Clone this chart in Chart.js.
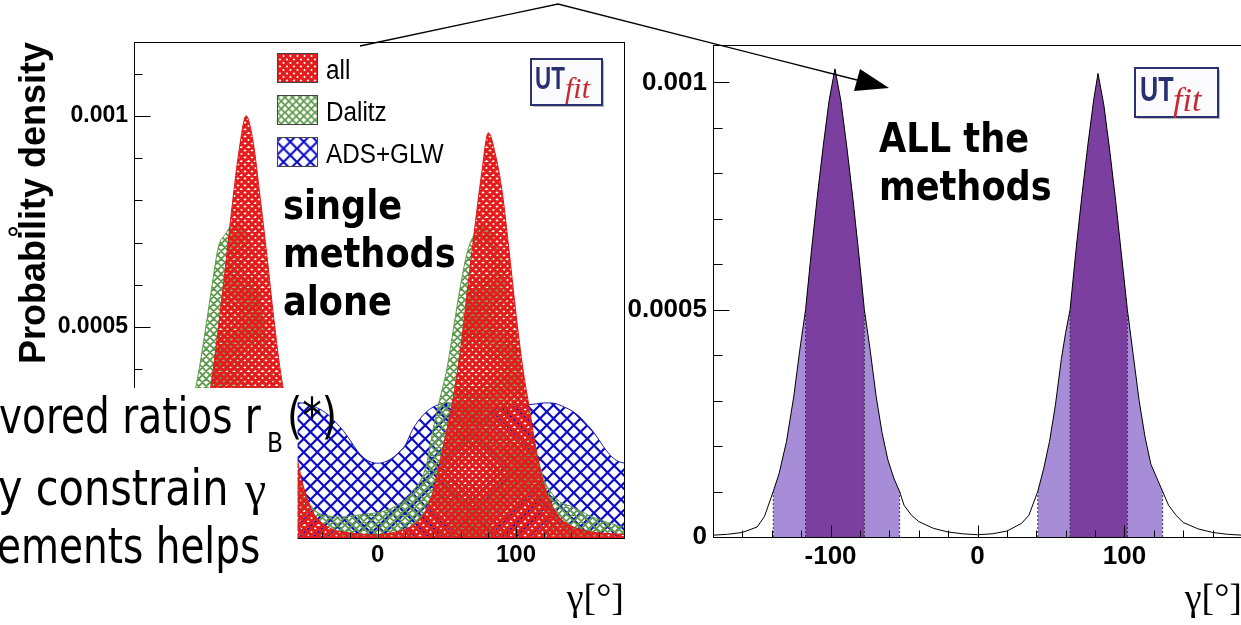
<!DOCTYPE html>
<html>
<head>
<meta charset="utf-8">
<script src="https://cdn.jsdelivr.net/npm/chart.js@4.4.1/dist/chart.umd.min.js"></script>
<style>
  html, body { margin: 0; padding: 0; background: #fff; overflow: hidden; }
  #page { position: relative; width: 1241px; height: 625px; overflow: hidden; background: #fff; }
  #left { position: absolute; left: 0; top: 0; }
  #right { position: absolute; left: 625px; top: 0; }
  #overlay { position: absolute; left: 0; top: 0; pointer-events: none; }
</style>
</head>
<body>
<div id="page">
  <canvas id="left" width="625" height="625"></canvas>
  <canvas id="right" width="620" height="625"></canvas>
  <svg id="overlay" width="1241" height="625" xmlns="http://www.w3.org/2000/svg">
    <defs id="defs"></defs>
    <!-- slide text box lying over the left plot -->
    <rect x="0" y="388" width="297.5" height="237" fill="#fff"/>
    <g font-family="DejaVu Sans" fill="#000">
      <text transform="translate(-1,433) scale(0.78,1)" font-size="50">vored ratios r</text>
      <text transform="translate(267,452) scale(0.9,1)" font-size="26">B</text>
      <text transform="translate(287,433) scale(0.78,1)" font-size="50">(*)</text>
      <text transform="translate(-2,505) scale(0.83,1)" font-size="50">y constrain</text>
      <text x="245" y="505" font-family="Liberation Serif" font-size="48">γ</text>
      <text transform="translate(-3,563) scale(0.78,1)" font-size="50">ements helps</text>
      <text x="13" y="249" font-size="30" text-anchor="middle">°</text>
    </g>
    <g font-family="DejaVu Sans" font-weight="bold" font-size="40" fill="#000">
      <text transform="translate(283,219) scale(0.88,1)">single</text>
      <text transform="translate(283,267) scale(0.88,1)">methods</text>
      <text transform="translate(283,315) scale(0.88,1)">alone</text>
      <text transform="translate(879,152) scale(0.88,1)">ALL the</text>
      <text transform="translate(879,200) scale(0.88,1)">methods</text>
    </g>
    <g id="legend"></g>
    <!-- UTfit logos -->
    <g>
      <rect x="533" y="61" width="71" height="46" fill="#bbb"/>
      <rect x="531" y="59" width="71" height="46" fill="#fbfbfd" stroke="#2a3170" stroke-width="2"/>
      <text transform="translate(535,89) scale(0.7,1)" font-family="Liberation Sans" font-weight="bold" font-size="32" fill="#2a2f72">UT</text>
      <text x="565" y="98" font-family="Liberation Serif" font-style="italic" font-size="30" fill="#c62a2f">fit</text>
      <rect x="1137" y="70" width="83" height="49" fill="#bbb"/>
      <rect x="1135" y="68" width="83" height="49" fill="#fbfbfd" stroke="#2a3170" stroke-width="2"/>
      <text transform="translate(1140,101) scale(0.7,1)" font-family="Liberation Sans" font-weight="bold" font-size="36" fill="#2a2f72">UT</text>
      <text x="1173" y="111" font-family="Liberation Serif" font-style="italic" font-size="34" fill="#c62a2f">fit</text>
    </g>
    <!-- arrow from left plot to right plot -->
    <polyline points="360,46 558,4 857,80" fill="none" stroke="#000" stroke-width="1.3"/>
    <polygon points="889,88 854,91 860,69" fill="#000"/>
  </svg>
</div>
<script>
// gamma grid of the left plot (degrees)
const leftX = [
  -180, -175, -170, -165, -160, -155, -150, -145,
  -140, -135, -130, -125, -120, -115, -110, -105,
  -100, -95, -90, -85, -80, -75, -70, -65,
  -60, -55, -50, -45, -40, -35, -30, -25,
  -20, -15, -10, -5, 0, 5, 10, 15,
  20, 25, 30, 35, 40, 45, 50, 55,
  60, 65, 70, 75, 80, 85, 90, 95,
  100, 105, 110, 115, 120, 125, 130, 135,
  140, 145, 150, 155, 160, 165, 170, 175,
  180
];
const allY = [
  0.000008, 0.000009, 0.000011, 0.000013, 0.000017, 0.000023, 0.000032, 0.000049,
  0.000076, 0.00013, 0.0002, 0.00028, 0.00037, 0.0005, 0.00064, 0.00079,
  0.00092, 0.001, 0.00094, 0.00081, 0.00067, 0.00052, 0.00039, 0.0003,
  0.00022, 0.00014, 0.000085, 0.000052, 0.000035, 0.000024, 0.000017, 0.000014,
  0.000012, 0.00001, 0.000009, 0.000008, 0.000008, 0.00001, 0.000012, 0.000016,
  0.00002, 0.000029, 0.000043, 0.000066, 0.00011, 0.00018, 0.000256, 0.00034,
  0.00045, 0.00059, 0.00073, 0.00086, 0.00096, 0.00091, 0.00082, 0.00068,
  0.00053, 0.0004, 0.0003, 0.0002, 0.00013, 0.000085, 0.000055, 0.000038,
  0.000028, 0.000022, 0.000017, 0.000014, 0.000012, 0.000011, 0.00001, 0.000009,
  0.000008
];
const dalitzY = [
  0.000035, 0.00004, 0.000048, 0.000058, 0.00007, 0.00009, 0.000125, 0.00018,
  0.00024, 0.0003, 0.00038, 0.00048, 0.00059, 0.00069, 0.00072, 0.00074,
  0.00074, 0.00072, 0.00067, 0.00057, 0.00046, 0.00037, 0.0003, 0.00022,
  0.00016, 0.00012, 0.000085, 0.000065, 0.000055, 0.000052, 0.00005, 0.00005,
  0.000052, 0.000054, 0.000056, 0.000058, 0.00006, 0.000064, 0.00007, 0.00008,
  0.00009, 0.00011, 0.00013, 0.00017, 0.000256, 0.00033, 0.0004, 0.0005,
  0.0006, 0.00068, 0.00072, 0.00074, 0.00073, 0.0007, 0.00064, 0.00055,
  0.00045, 0.00036, 0.00028, 0.0002, 0.00014, 0.00011, 0.00009, 0.00008,
  0.000075, 0.000066, 0.000058, 0.00005, 0.000044, 0.000038, 0.000033, 0.000028,
  0.000026
];
const adsY = [
  0.000177, 0.00018, 0.000188, 0.000202, 0.00022, 0.000255, 0.00028, 0.000298,
  0.00031, 0.000317, 0.00032, 0.000318, 0.000314, 0.000312, 0.00031, 0.000309,
  0.000308, 0.000309, 0.00031, 0.000311, 0.000313, 0.000315, 0.000316, 0.000318,
  0.00032, 0.00032, 0.000317, 0.00031, 0.000302, 0.00029, 0.000273, 0.000255,
  0.000232, 0.000208, 0.00019, 0.00018, 0.000177, 0.00018, 0.000188, 0.000202,
  0.00022, 0.000255, 0.00028, 0.000298, 0.00031, 0.000317, 0.00032, 0.000318,
  0.000314, 0.000312, 0.00031, 0.000309, 0.000308, 0.000309, 0.00031, 0.000311,
  0.000313, 0.000315, 0.000316, 0.000318, 0.00032, 0.00032, 0.000317, 0.00031,
  0.000302, 0.00029, 0.000273, 0.000255, 0.000232, 0.000208, 0.00019, 0.00018,
  0.000177
];
const seriesNames = ['all', 'Dalitz', 'ADS+GLW'];

// right plot: combined pdf, sampled more densely around the two peaks
const rightX = [
  -180, -170, -160, -150,
  -145, -139, -135, -130, -125, -121, -117, -113, -109, -105,
  -101, -97, -93, -89, -85, -81, -77, -73, -69, -65,
  -61, -57, -53, -50, -45, -40, -30, -20, -10, 0,
  10, 20, 30, 35, 41, 45, 49, 53, 57, 60,
  63, 67, 71, 75, 79, 82, 86, 90, 94, 98,
  102, 106, 110, 114, 118, 122, 126, 130, 135, 140,
  150, 160, 170, 180
];
const rightY = [
  0.000004, 0.000006, 0.00001, 0.000022,
  0.000045, 0.0001, 0.00014, 0.00021, 0.00031, 0.00041, 0.0005, 0.00063, 0.00075, 0.00086,
  0.00096, 0.00103, 0.00096, 0.00086, 0.00075, 0.00063, 0.0005, 0.00041, 0.00031, 0.00023,
  0.00017, 0.00013, 0.0001, 0.00007, 0.000048, 0.000034, 0.000019, 0.000011, 0.000007, 0.000005,
  0.000007, 0.000013, 0.00003, 0.000048, 0.0001, 0.00015, 0.00021, 0.00029, 0.00039, 0.00045,
  0.0005, 0.00063, 0.00075, 0.00086, 0.00096, 0.00102, 0.00095, 0.00085, 0.00074, 0.00062,
  0.0005, 0.0004, 0.0003, 0.00022, 0.00016, 0.00013, 0.0001, 0.00007, 0.000048, 0.000032,
  0.000018, 0.00001, 0.000006, 0.000004
];
// probability intervals (68% dark, 95% light)
const band68 = [[-117, -77], [63, 102]];
const band95 = [[-139, -53], [41, 126]];

// small tick marks drawn inside the frame, ROOT style
const xTickMarks = [-160, -140, -120, -100, -80, -60, -40, -20, 0, 20, 40, 60, 80, 100, 120, 140, 160];
const yTickMarks = [0, 0.0001, 0.0002, 0.0003, 0.0004, 0.0005, 0.0006, 0.0007, 0.0008, 0.0009, 0.001, 0.0011];

const hatchSpec = [
  {color: '#e41c1c', size: 7, width: 3.1},
  {color: '#5e9a4c', size: 7.5, width: 1.8},
  {color: '#0c0cc8', size: 13.5, width: 2.2}
];
const lineColors = ['#e01818', '#5e9a4c', '#1a1aa8'];

Chart.defaults.color = '#000';

function hatch(spec) {
  const s = spec.size;
  const c = document.createElement('canvas');
  c.width = Math.round(s * 2); c.height = Math.round(s * 2);
  const g = c.getContext('2d');
  const t = c.width;
  g.strokeStyle = spec.color;
  g.lineWidth = spec.width;
  g.beginPath();
  // two periods per tile so non integer sizes still repeat cleanly
  for (const o of [-t, -t / 2, 0, t / 2, t]) {
    g.moveTo(o, 0); g.lineTo(o + t, t);
    g.moveTo(o + t, 0); g.lineTo(o, t);
  }
  g.stroke();
  return document.getElementById('left').getContext('2d').createPattern(c, 'repeat');
}

const pts = (xs, ys) => xs.map((x, i) => ({x: x, y: ys[i]}));
const inBands = (bands) => rightX.map((x, i) => ({
  x: x,
  y: bands.some(b => x >= b[0] && x <= b[1]) ? rightY[i] : null
}));

// dotted verticals on the interval edges
const edgePts = [];
for (const e of band95.flat().concat(band68.flat())) {
  const i = rightX.indexOf(e);
  edgePts.push({x: e, y: 0}, {x: e, y: rightY[i]}, {x: e, y: null});
}

const rootFrame = {
  id: 'rootFrame',
  afterDatasetsDraw(chart, args, o) {
    const {ctx, chartArea: a, scales} = chart;
    ctx.save();
    ctx.strokeStyle = '#000';
    ctx.lineWidth = 1;
    const l = Math.round(a.left) + 0.5, t = Math.round(a.top) + 0.5;
    const r = Math.round(a.right) + 0.5, b = Math.round(a.bottom) + 0.5;
    ctx.strokeRect(l, t, r - l, b - t);
    ctx.beginPath();
    for (const v of xTickMarks) {
      const px = Math.round(scales.x.getPixelForValue(v)) + 0.5;
      const len = v % 100 === 0 ? o.xMajor : o.xMinor;
      ctx.moveTo(px, b); ctx.lineTo(px, b - len);
    }
    for (const v of yTickMarks) {
      if (v > scales.y.max) continue;
      const py = Math.round(scales.y.getPixelForValue(v)) + 0.5;
      const major = Math.abs(v / 0.0005 - Math.round(v / 0.0005)) < 1e-6;
      ctx.moveTo(l, py); ctx.lineTo(l + (major ? o.yMajor : o.yMinor), py);
    }
    ctx.stroke();
    ctx.restore();
  }
};

const tickLabel = v => String(Number(Number(v).toPrecision(6)));
const noGrid = {display: false, drawTicks: false};

// left plot: single methods
new Chart(document.getElementById('left'), {
  type: 'line',
  data: {
    datasets: [allY, dalitzY, adsY].map((ys, i) => ({
      label: seriesNames[i],
      data: pts(leftX, ys),
      borderColor: lineColors[i],
      borderWidth: 1,
      backgroundColor: hatch(hatchSpec[i]),
      fill: 'origin',
      cubicInterpolationMode: 'monotone',
      pointRadius: 0
    }))
  },
  options: {
    responsive: false,
    animation: false,
    layout: {padding: {top: 42, right: 1, left: 0, bottom: 0}},
    plugins: {
      legend: {display: false},
      tooltip: {enabled: false},
      rootFrame: {xMajor: 12, xMinor: 6, yMajor: 16, yMinor: 8}
    },
    scales: {
      x: {
        type: 'linear', min: -176, max: 178,
        grid: noGrid, border: {display: false},
        ticks: {stepSize: 100, includeBounds: false, maxRotation: 0, padding: 3,
                font: {family: 'Liberation Sans', weight: 'bold', size: 24}},
        title: {display: true, text: 'γ[°]', align: 'end',
                font: {family: 'Liberation Serif', size: 38}, padding: {top: 0, bottom: 2}},
        afterFit: s => { s.height = 87; }
      },
      y: {
        min: 0, max: 0.001175,
        grid: noGrid, border: {display: false},
        ticks: {stepSize: 0.0005, includeBounds: false, padding: 6, callback: tickLabel,
                font: {family: 'Liberation Sans', weight: 'bold', size: 23}},
        title: {display: true, text: 'Probability density', align: 'end',
                font: {family: 'Liberation Sans', weight: 'bold', size: 36}, padding: {top: 13, bottom: 0}},
        afterFit: s => { s.width = 134; }
      }
    }
  },
  plugins: [rootFrame]
});

// right plot: all the methods combined
new Chart(document.getElementById('right'), {
  type: 'line',
  data: {
    datasets: [
      {data: pts(rightX, rightY), borderColor: '#000', borderWidth: 1, fill: false, pointRadius: 0},
      {data: edgePts, borderColor: '#333', borderWidth: 1, borderDash: [2, 2], fill: false, pointRadius: 0},
      {data: inBands(band68), borderColor: 'transparent', backgroundColor: '#7b3fa0', fill: 'origin', pointRadius: 0},
      {data: inBands(band95), borderColor: 'transparent', backgroundColor: '#a78cd7', fill: 'origin', pointRadius: 0}
    ]
  },
  options: {
    responsive: false,
    animation: false,
    layout: {padding: {top: 45, right: 3, left: 0, bottom: 0}},
    plugins: {
      legend: {display: false},
      tooltip: {enabled: false},
      rootFrame: {xMajor: 12, xMinor: 7, yMajor: 16, yMinor: 9}
    },
    scales: {
      x: {
        type: 'linear', min: -180, max: 180,
        grid: noGrid, border: {display: false},
        ticks: {stepSize: 100, includeBounds: false, maxRotation: 0, padding: 4,
                font: {family: 'Liberation Sans', weight: 'bold', size: 26}},
        title: {display: true, text: 'γ[°]', align: 'end',
                font: {family: 'Liberation Serif', size: 38}, padding: {top: 0, bottom: 2}},
        afterFit: s => { s.height = 88; }
      },
      y: {
        min: 0, max: 0.0010825,
        grid: noGrid, border: {display: false},
        ticks: {stepSize: 0.0005, includeBounds: false, padding: 6, callback: tickLabel,
                font: {family: 'Liberation Sans', weight: 'bold', size: 26}},
        afterFit: s => { s.width = 88; }
      }
    }
  },
  plugins: [rootFrame]
});

// legend of the left plot, inside its frame
const NS = 'http://www.w3.org/2000/svg';
function svgEl(parent, tag, attrs, text) {
  const el = document.createElementNS(NS, tag);
  for (const k in attrs) el.setAttribute(k, attrs[k]);
  if (text) el.textContent = text;
  parent.appendChild(el);
  return el;
}
const defs = document.getElementById('defs');
const legend = document.getElementById('legend');
seriesNames.forEach((name, i) => {
  const h = hatchSpec[i], s = h.size;
  const p = svgEl(defs, 'pattern', {id: 'hp' + i, width: s, height: s, patternUnits: 'userSpaceOnUse'});
  svgEl(p, 'path', {d: `M0,0L${s},${s}M${s},0L0,${s}`, stroke: h.color, 'stroke-width': h.width});
  const top = 53.5 + i * 42;
  svgEl(legend, 'rect', {x: 277.5, y: top, width: 40, height: 29, fill: '#fff'});
  svgEl(legend, 'rect', {x: 277.5, y: top, width: 40, height: 29, fill: `url(#hp${i})`, stroke: '#444', 'stroke-width': 1});
  svgEl(legend, 'text', {transform: `translate(326,${top + 25}) scale(0.9,1)`, 'font-family': 'Liberation Sans', 'font-size': 27, fill: '#000'}, name);
});
</script>
</body>
</html>
